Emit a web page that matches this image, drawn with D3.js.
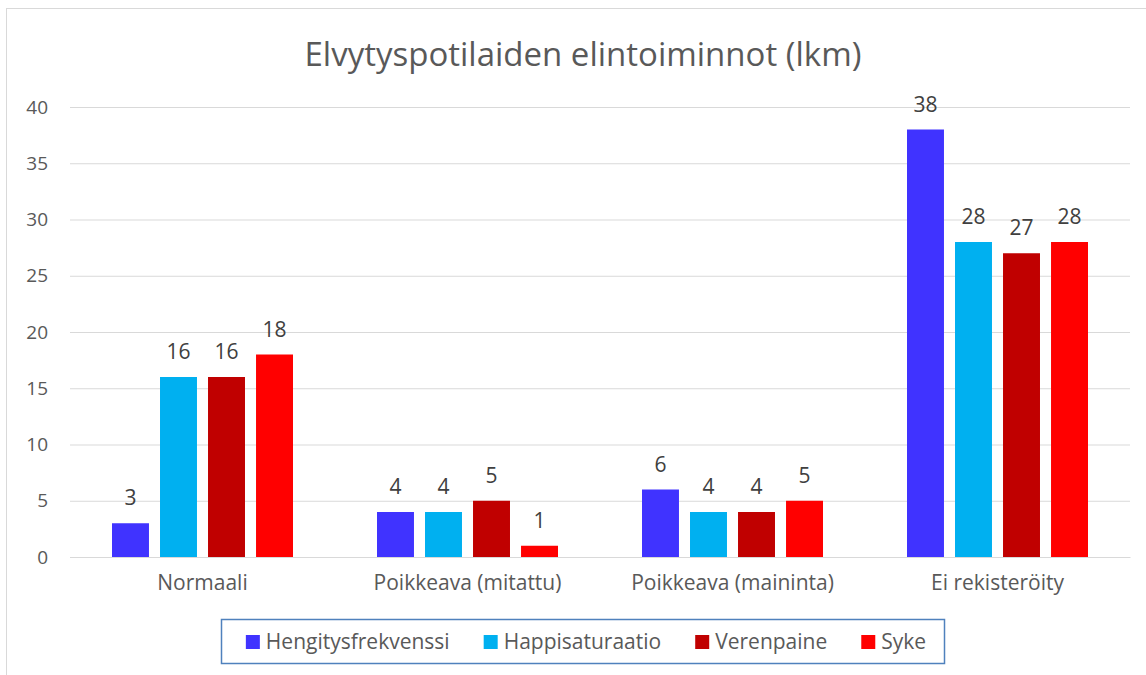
<!DOCTYPE html>
<html>
<head>
<meta charset="utf-8">
<script src="https://cdn.jsdelivr.net/npm/d3@7"></script>
<style>
	body { margin: 0; background: #fff; }
	svg { font-family: "Open Sans", sans-serif; }
</style>
</head>
<body>
<svg width="1146" height="675"></svg>
<script>
// chart data
var categories = ["Normaali", "Poikkeava (mitattu)", "Poikkeava (maininta)", "Ei rekisteröity"];
var seriesNames = ["Hengitysfrekvenssi", "Happisaturaatio", "Verenpaine", "Syke"];
var hengitys = [3, 4, 6, 38];
var happi = [16, 4, 4, 28];
var verenpaine = [16, 5, 4, 27];
var syke = [18, 1, 5, 28];
var yTicks = [0, 5, 10, 15, 20, 25, 30, 35, 40];
var colors = ["#4033FF", "#00B0F0", "#C00000", "#FF0000"];

var seriesValues = [hengitys, happi, verenpaine, syke];
var font = "'Open Sans', sans-serif";

var svg = d3.select("svg");

// outer chart frame
svg.append("rect")
	.attr("x", 6.5).attr("y", 8.5)
	.attr("width", 1160).attr("height", 700)
	.attr("fill", "none")
	.attr("stroke", "#d9d9d9");

svg.append("text")
	.attr("x", 583).attr("y", 66)
	.attr("text-anchor", "middle")
	.attr("fill", "#595959")
	.style("font-size", "33px")
	.text("Elvytyspotilaiden elintoiminnot (lkm)");

var margin = {left: 70, right: 16, top: 107, bottom: 118};
var width = 1146 - margin.left - margin.right,
	height = 675 - margin.top - margin.bottom;

var g = svg.append("g").attr("transform", "translate(" + margin.left + "," + margin.top + ")");

var x = d3.scaleBand().domain(categories).range([0, width]).paddingInner(0).paddingOuter(0);
var x1 = d3.scaleBand().domain(seriesNames).range([42, x.bandwidth() - 42]).paddingInner(0.23);
var y = d3.scaleLinear().domain([0, 40]).range([height, 0]);

// gridlines
g.append("g")
	.call(d3.axisLeft(y).tickValues(yTicks).tickSize(-width).tickFormat(""))
	.call(function (a) {
		a.select(".domain").remove();
		a.selectAll("line").attr("stroke", "#d9d9d9");
	});

// y labels
g.append("g")
	.call(d3.axisLeft(y).tickValues(yTicks).tickSize(0).tickPadding(22))
	.call(function (a) {
		a.select(".domain").remove();
		a.selectAll("text").attr("fill", "#595959").style("font-size", "19px")
			.style("font-family", font);
	});

// x labels
g.append("g")
	.attr("transform", "translate(0," + height + ")")
	.call(d3.axisBottom(x).tickSize(0).tickPadding(18))
	.call(function (a) {
		a.select(".domain").attr("stroke", "#d9d9d9");
		a.selectAll("text").attr("fill", "#595959").style("font-size", "21px")
			.style("font-family", font);
	});

var rows = categories.map(function (c, i) {
	return {cat: c, vals: seriesNames.map(function (s, j) { return {name: s, v: seriesValues[j][i], c: colors[j]}; })};
});

var groups = g.selectAll(".grp").data(rows).enter().append("g")
	.attr("transform", function (d) { return "translate(" + x(d.cat) + ",0)"; });

groups.selectAll("rect").data(function (d) { return d.vals; }).enter().append("rect")
	.attr("x", function (d) { return x1(d.name); })
	.attr("y", function (d) { return y(d.v); })
	.attr("width", x1.bandwidth())
	.attr("height", function (d) { return height - y(d.v); })
	.attr("fill", function (d) { return d.c; });

groups.selectAll(".lbl").data(function (d) { return d.vals; }).enter().append("text")
	.attr("x", function (d) { return x1(d.name) + x1.bandwidth() / 2; })
	.attr("y", function (d) { return y(d.v) - 18; })
	.attr("text-anchor", "middle")
	.attr("fill", "#404040")
	.style("font-size", "21px")
	.text(function (d) { return d.v; });

// legend
svg.append("rect")
	.attr("x", 221.5).attr("y", 619.5)
	.attr("width", 723).attr("height", 44)
	.attr("fill", "#fff")
	.attr("stroke", "#4f81bd")
	.attr("stroke-width", 1.5);

var leg = svg.append("g");
var items = leg.selectAll("g").data(seriesNames).enter().append("g");
items.append("rect")
	.attr("width", 14).attr("height", 14)
	.attr("y", 635)
	.attr("fill", function (d, i) { return colors[i]; });
items.append("text")
	.attr("x", 20).attr("y", 649)
	.attr("fill", "#595959")
	.style("font-size", "21px")
	.text(function (d) { return d; });

var offs = [], cur = 0;
items.each(function (d, i) {
	offs.push(cur);
	cur += 20 + d3.select(this).select("text").node().getComputedTextLength() + 34;
});
var total = cur - 34;
var start = 586 - total / 2;
items.attr("transform", function (d, i) { return "translate(" + (start + offs[i]) + ",0)"; });
</script>
</body>
</html>
